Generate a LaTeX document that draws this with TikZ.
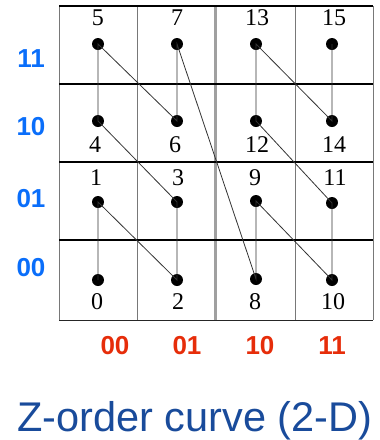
\documentclass[tikz,border=0pt]{standalone}
\usepackage{fontspec}
\setmainfont{Liberation Serif}
\newfontfamily\arialfont{Liberation Sans}
\definecolor{rowblue}{RGB}{10,110,250}
\definecolor{colred}{RGB}{230,45,10}
\definecolor{titleblue}{RGB}{25,75,155}
\definecolor{gridgray}{RGB}{120,120,120}
\begin{document}
\begin{tikzpicture}[x=1pt,y=-1pt,
  dot/.style={circle,fill=black,inner sep=0pt,minimum size=12pt},
  num/.style={font=\fontsize{24}{24}\selectfont,inner sep=0pt},
  rowlab/.style={font=\arialfont\bfseries\fontsize{26}{26}\selectfont,text=rowblue,inner sep=0pt},
  collab/.style={font=\arialfont\bfseries\fontsize{26}{26}\selectfont,text=colred,inner sep=0pt},
  link/.style={line width=0.8pt,draw=black!80}]
\useasboundingbox (0,0) rectangle (380,440);
% grid
\draw[gridgray,line width=0.9pt] (59,6) -- (59,320);
\draw[gridgray,line width=0.9pt] (373,6) -- (373,320);
\draw[gridgray,line width=0.9pt] (137.5,6) -- (137.5,320);
\draw[gridgray,line width=0.9pt] (295,6) -- (295,320);
\draw[gridgray!70,line width=2.6pt] (215.5,6) -- (215.5,320);
\draw[black!85,line width=1pt] (59,320) -- (373,320);
\draw[black,line width=2.4pt] (59,6) -- (373,6);
\draw[black,line width=2.4pt] (59,84) -- (373,84);
\draw[black,line width=2.4pt] (59,162) -- (373,162);
\draw[black,line width=2.4pt] (59,240) -- (373,240);
% dots
\node[dot] (p0) at (98,280) {};
\node[dot] (p1) at (98,202) {};
\node[dot] (p2) at (177,280) {};
\node[dot] (p3) at (177,202) {};
\node[dot] (p4) at (98,121) {};
\node[dot] (p5) at (98,44) {};
\node[dot] (p6) at (177,121) {};
\node[dot] (p7) at (177,44) {};
\node[dot] (p8) at (256,279) {};
\node[dot] (p9) at (256,201) {};
\node[dot] (p10) at (332,280) {};
\node[dot] (p11) at (332,203) {};
\node[dot] (p12) at (256,121) {};
\node[dot] (p13) at (256,44) {};
\node[dot] (p14) at (332,121) {};
\node[dot] (p15) at (332,44) {};
% curve
\draw[link] (p0.center) -- (p1.center) -- (p2.center) -- (p3.center) -- (p4.center)
  -- (p5.center) -- (p6.center) -- (p7.center) -- (p8.center) -- (p9.center)
  -- (p10.center) -- (p11.center) -- (p12.center) -- (p13.center) -- (p14.center) -- (p15.center);
% numbers
\node[num] (n5) at (98,18) {5};
\node[num] (n7) at (177,18) {7};
\node[num] (n13) at (257,18) {13};
\node[num] (n15) at (334,18) {15};
\node[num] (n4) at (95,145) {4};
\node[num] (n6) at (175,145) {6};
\node[num] (n12) at (257,145) {12};
\node[num] (n14) at (334,145) {14};
\node[num] (n1) at (96,178) {1};
\node[num] (n3) at (178,178) {3};
\node[num] (n9) at (255,178) {9};
\node[num] (n11) at (335,178) {11};
\node[num] (n0) at (97,302) {0};
\node[num] (n2) at (178,302) {2};
\node[num] (n8) at (255,302) {8};
\node[num] (n10) at (333,302) {10};
% row labels
\node[rowlab] (r11) at (31,59) {11};
\node[rowlab] (r10) at (31,127) {10};
\node[rowlab] (r01) at (31,199) {01};
\node[rowlab] (r00) at (31,268) {00};
% column labels
\node[collab] (c00) at (115,346) {00};
\node[collab] (c01) at (187,346) {01};
\node[collab] (c10) at (260,346) {10};
\node[collab] (c11) at (332,346) {11};
% title
\node[font=\arialfont\fontsize{41.5}{41.5}\selectfont,text=titleblue,inner sep=0pt,anchor=base west] (title) at (17,431) {Z-order curve (2-D)};
\end{tikzpicture}
\end{document}
